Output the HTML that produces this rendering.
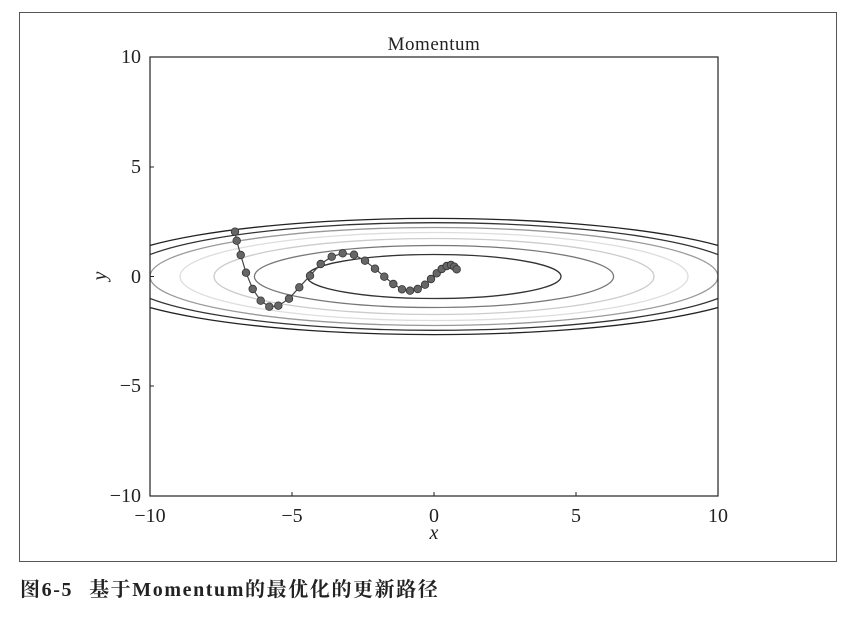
<!DOCTYPE html>
<html><head><meta charset="utf-8"><style>
body{margin:0;background:#fff;}
</style></head><body>
<svg width="853" height="623" xmlns="http://www.w3.org/2000/svg" style="display:block">
<rect x="19.5" y="12.5" width="817" height="549" fill="#fff" stroke="#555" stroke-width="1"/>
<defs><clipPath id="c"><rect x="150" y="57" width="568" height="439"/></clipPath></defs>
<g clip-path="url(#c)" fill="none" stroke-width="1.3">
<ellipse cx="434" cy="276.5" rx="127" ry="22" stroke="#333"/>
<ellipse cx="434" cy="276.5" rx="179.6" ry="31" stroke="#777"/>
<ellipse cx="434" cy="276.5" rx="220" ry="38" stroke="#ccc"/>
<ellipse cx="434" cy="276.5" rx="254" ry="44" stroke="#ddd"/>
<ellipse cx="434" cy="276.5" rx="284" ry="49" stroke="#999"/>
<ellipse cx="434" cy="276.5" rx="311" ry="53.8" stroke="#333"/>
<ellipse cx="434" cy="276.5" rx="336" ry="58.1" stroke="#222"/>
</g>
<rect x="150" y="57" width="568" height="439" fill="none" stroke="#222" stroke-width="1.2"/>
<polyline fill="none" stroke="#444" stroke-width="1.2" points="235,231.7 236.7,240.7 240.7,255 246,272.7 252.7,289 260.7,300.7 269.3,306.7 278.3,305.7 289,298.7 299.3,287.3 310,275.7 320.7,264 331.7,256.7 342.7,253.3 354,254.7 365,260.7 375,268.7 384.3,276.7 393.3,284 402,289.3 410,290.7 417.7,289 425,284.7 431,279 436.7,273.3 441.7,269 446.7,266 451,265 454.3,266.7 456.7,269.3"/>
<g fill="#666" stroke="#333" stroke-width="0.8">
<circle cx="235" cy="231.7" r="3.8"/><circle cx="236.7" cy="240.7" r="3.8"/><circle cx="240.7" cy="255" r="3.8"/><circle cx="246" cy="272.7" r="3.8"/><circle cx="252.7" cy="289" r="3.8"/><circle cx="260.7" cy="300.7" r="3.8"/><circle cx="269.3" cy="306.7" r="3.8"/><circle cx="278.3" cy="305.7" r="3.8"/><circle cx="289" cy="298.7" r="3.8"/><circle cx="299.3" cy="287.3" r="3.8"/><circle cx="310" cy="275.7" r="3.8"/><circle cx="320.7" cy="264" r="3.8"/><circle cx="331.7" cy="256.7" r="3.8"/><circle cx="342.7" cy="253.3" r="3.8"/><circle cx="354" cy="254.7" r="3.8"/><circle cx="365" cy="260.7" r="3.8"/><circle cx="375" cy="268.7" r="3.8"/><circle cx="384.3" cy="276.7" r="3.8"/><circle cx="393.3" cy="284" r="3.8"/><circle cx="402" cy="289.3" r="3.8"/><circle cx="410" cy="290.7" r="3.8"/><circle cx="417.7" cy="289" r="3.8"/><circle cx="425" cy="284.7" r="3.8"/><circle cx="431" cy="279" r="3.8"/><circle cx="436.7" cy="273.3" r="3.8"/><circle cx="441.7" cy="269" r="3.8"/><circle cx="446.7" cy="266" r="3.8"/><circle cx="451" cy="265" r="3.8"/><circle cx="454.3" cy="266.7" r="3.8"/><circle cx="456.7" cy="269.3" r="3.8"/>
</g>
<g stroke="#222" stroke-width="1">
<line x1="150" y1="496" x2="150" y2="492"/><line x1="292" y1="496" x2="292" y2="492"/><line x1="434" y1="496" x2="434" y2="492"/><line x1="576" y1="496" x2="576" y2="492"/><line x1="718" y1="496" x2="718" y2="492"/>
<line x1="150" y1="57" x2="154" y2="57"/><line x1="150" y1="167" x2="154" y2="167"/><line x1="150" y1="276.5" x2="154" y2="276.5"/><line x1="150" y1="386" x2="154" y2="386"/><line x1="150" y1="496" x2="154" y2="496"/>
</g>
<g font-family="Liberation Serif, serif" font-size="20" fill="#222">
<text x="434" y="50" text-anchor="middle" font-size="19" letter-spacing="0.5">Momentum</text>
<text x="150" y="522" text-anchor="middle">−10</text>
<text x="292" y="522" text-anchor="middle">−5</text>
<text x="434" y="522" text-anchor="middle">0</text>
<text x="576" y="522" text-anchor="middle">5</text>
<text x="718" y="522" text-anchor="middle">10</text>
<text x="141" y="63" text-anchor="end">10</text>
<text x="141" y="173" text-anchor="end">5</text>
<text x="141" y="283" text-anchor="end">0</text>
<text x="141" y="392" text-anchor="end">−5</text>
<text x="141" y="502" text-anchor="end">−10</text>
<text x="434" y="539" text-anchor="middle" font-style="italic">x</text>
<text x="0" y="0" font-style="italic" transform="translate(106,276) rotate(-90)" text-anchor="middle">y</text>
</g>
<text x="20" y="596" font-family="Liberation Serif, 'Noto Serif CJK SC', serif" font-size="20" font-weight="bold" fill="#222" letter-spacing="1.6">图6-5<tspan dx="16">基于Momentum的最优化的更新路径</tspan></text>
</svg>
</body></html>
